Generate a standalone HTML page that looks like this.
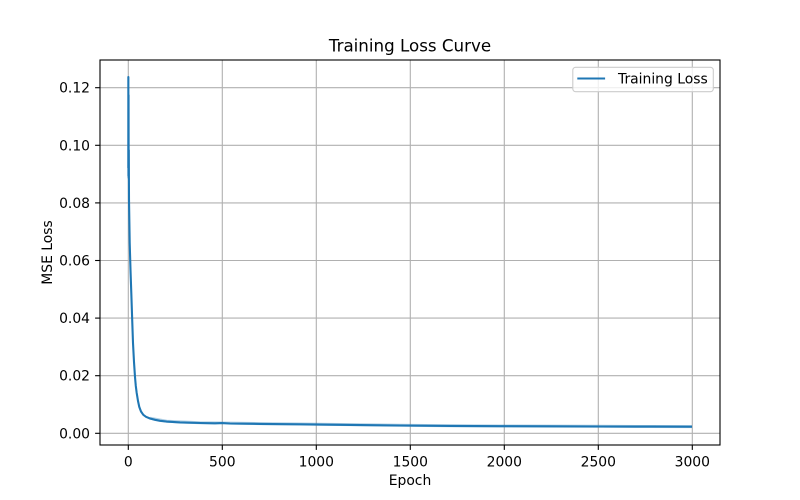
<!DOCTYPE html>
<html><head><meta charset="utf-8"><style>
html,body{margin:0;padding:0;background:#fff;}
svg{display:block;}
text{font-family:"DejaVu Sans","Liberation Sans",sans-serif;fill:#000;}
</style></head><body>
<svg width="800" height="500" viewBox="0 0 800 500" xmlns="http://www.w3.org/2000/svg">
<rect width="800" height="500" fill="#fff"/>
<!-- grid -->
<g stroke="#b0b0b0" stroke-width="1.1">
<line x1="128.3" y1="60" x2="128.3" y2="445"/>
<line x1="222.3" y1="60" x2="222.3" y2="445"/>
<line x1="316.3" y1="60" x2="316.3" y2="445"/>
<line x1="410.3" y1="60" x2="410.3" y2="445"/>
<line x1="504.3" y1="60" x2="504.3" y2="445"/>
<line x1="598.3" y1="60" x2="598.3" y2="445"/>
<line x1="692.3" y1="60" x2="692.3" y2="445"/>
<line x1="100" y1="433.3" x2="720" y2="433.3"/>
<line x1="100" y1="375.7" x2="720" y2="375.7"/>
<line x1="100" y1="318.1" x2="720" y2="318.1"/>
<line x1="100" y1="260.5" x2="720" y2="260.5"/>
<line x1="100" y1="202.9" x2="720" y2="202.9"/>
<line x1="100" y1="145.3" x2="720" y2="145.3"/>
<line x1="100" y1="87.7" x2="720" y2="87.7"/>
</g>
<!-- noise fuzz -->
<polyline fill="none" stroke="#1f77b4" stroke-opacity="0.35" stroke-width="3" stroke-linejoin="round"
points="150,418.2 166.7,421.2 200,422.8 222,423.0 260,423.6 300,424.0 350,424.6 400,425.2 450,425.7 500,426.0 550,426.1 600,426.3 650,426.5 692,426.6"/>
<!-- series -->
<polyline fill="none" stroke="#1f77b4" stroke-width="2.1" stroke-linejoin="round" stroke-linecap="butt"
points="128.3,168 128.35,77 128.45,176 128.55,95 128.65,178 128.8,150 128.9,178 129,200 129.7,243 130.5,270 131.3,293 132.2,320 133,343 134,362 135,377 135.8,386 136.7,393 138,401 139.3,407 141,411.5 143.3,414.8 146,416.8 150,418.5 155,419.8 160,420.8 166.7,421.6 180,422.4 200,423.0 215,423.3 222,423.0 230,423.5 260,423.9 300,424.3 350,424.9 400,425.5 450,425.9 500,426.2 550,426.3 600,426.5 650,426.6 692,426.7"/>
<!-- spines -->
<rect x="100" y="60" width="620" height="385" fill="none" stroke="#000" stroke-width="1.1"/>
<!-- ticks -->
<g stroke="#000" stroke-width="1.1">
<line x1="128.3" y1="445" x2="128.3" y2="449.9"/>
<line x1="222.3" y1="445" x2="222.3" y2="449.9"/>
<line x1="316.3" y1="445" x2="316.3" y2="449.9"/>
<line x1="410.3" y1="445" x2="410.3" y2="449.9"/>
<line x1="504.3" y1="445" x2="504.3" y2="449.9"/>
<line x1="598.3" y1="445" x2="598.3" y2="449.9"/>
<line x1="692.3" y1="445" x2="692.3" y2="449.9"/>
<line x1="95.1" y1="433.3" x2="100" y2="433.3"/>
<line x1="95.1" y1="375.7" x2="100" y2="375.7"/>
<line x1="95.1" y1="318.1" x2="100" y2="318.1"/>
<line x1="95.1" y1="260.5" x2="100" y2="260.5"/>
<line x1="95.1" y1="202.9" x2="100" y2="202.9"/>
<line x1="95.1" y1="145.3" x2="100" y2="145.3"/>
<line x1="95.1" y1="87.7" x2="100" y2="87.7"/>
</g>
<g font-size="13.9" text-anchor="middle">
<text x="128.3" y="466.5">0</text>
<text x="222.3" y="466.5">500</text>
<text x="316.3" y="466.5">1000</text>
<text x="410.3" y="466.5">1500</text>
<text x="504.3" y="466.5">2000</text>
<text x="598.3" y="466.5">2500</text>
<text x="692.3" y="466.5">3000</text>
</g>
<g font-size="13.9" text-anchor="end">
<text x="90" y="438.3">0.00</text>
<text x="90" y="380.7">0.02</text>
<text x="90" y="323.1">0.04</text>
<text x="90" y="265.5">0.06</text>
<text x="90" y="207.9">0.08</text>
<text x="90" y="150.3">0.10</text>
<text x="90" y="92.7">0.12</text>
</g>
<text x="410" y="485" font-size="13.9" text-anchor="middle">Epoch</text>
<text transform="translate(52,252.5) rotate(-90)" font-size="13.9" text-anchor="middle">MSE Loss</text>
<text x="410" y="51.7" font-size="16.7" text-anchor="middle">Training Loss Curve</text>
<!-- legend -->
<rect x="572.8" y="67.3" width="140.5" height="24.4" rx="2.8" fill="#fff" fill-opacity="0.8" stroke="#cccccc" stroke-width="1.1"/>
<line x1="577.3" y1="78.5" x2="605.1" y2="78.5" stroke="#1f77b4" stroke-width="2.1"/>
<text x="618" y="83.5" font-size="13.9">Training Loss</text>
</svg>
</body></html>
